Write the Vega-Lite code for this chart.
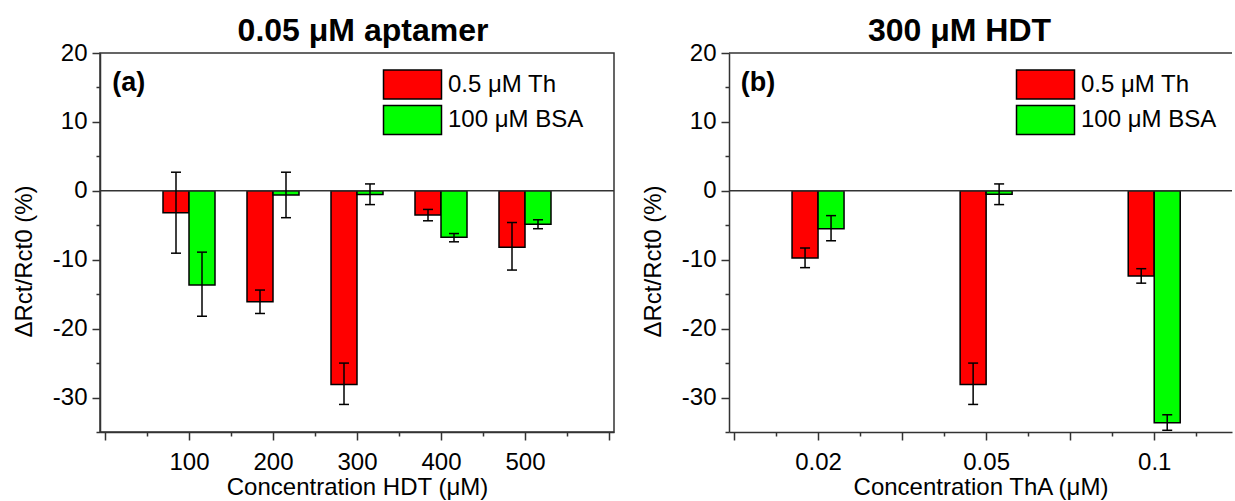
{
  "$schema": "https://vega.github.io/schema/vega-lite/v6.json",
  "padding": {"left": 11, "top": 14, "right": 0, "bottom": 0},
  "spacing": 25,
  "config": {
    "font": "Liberation Sans",
    "view": {"stroke": "#333", "strokeWidth": 1.5},
    "axis": {"domainColor": "#333", "domainWidth": 1.5, "tickColor": "#333", "tickWidth": 1.5, "labelFont": "Liberation Sans", "labelFontSize": 24, "labelColor": "#000", "titleFont": "Liberation Sans", "titleFontSize": 24, "titleFontWeight": "normal", "titleColor": "#000", "grid": false, "labelOverlap": false, "labelFlush": false, "tickCount": 30},
    "legend": {"symbolType": "M-2,-1H2V1H-2Z", "symbolSize": 841, "symbolStrokeColor": "#000", "symbolStrokeWidth": 1.5, "symbolOpacity": 1, "labelFont": "Liberation Sans", "labelFontSize": 24, "labelColor": "#000", "labelOffset": 20, "rowPadding": 0.4, "padding": 0, "labelLimit": 400},
    "title": {"font": "Liberation Sans", "fontSize": 32, "fontWeight": "bold", "color": "#000", "baseline": "alphabetic", "offset": -7}
  },
  "datasets": {
    "hdt": [
      {"conc": 100, "series": "0.5 μM Th", "value": -3.2, "lo": -9.05, "hi": 2.7},
      {"conc": 100, "series": "100 μM BSA", "value": -13.65, "lo": -18.2, "hi": -8.9},
      {"conc": 200, "series": "0.5 μM Th", "value": -16.1, "lo": -17.8, "hi": -14.4},
      {"conc": 200, "series": "100 μM BSA", "value": -0.6, "lo": -3.9, "hi": 2.7},
      {"conc": 300, "series": "0.5 μM Th", "value": -28.1, "lo": -31.0, "hi": -25.0},
      {"conc": 300, "series": "100 μM BSA", "value": -0.55, "lo": -2.0, "hi": 1.0},
      {"conc": 400, "series": "0.5 μM Th", "value": -3.5, "lo": -4.35, "hi": -2.7},
      {"conc": 400, "series": "100 μM BSA", "value": -6.75, "lo": -7.4, "hi": -6.2},
      {"conc": 500, "series": "0.5 μM Th", "value": -8.2, "lo": -11.5, "hi": -4.6},
      {"conc": 500, "series": "100 μM BSA", "value": -4.85, "lo": -5.5, "hi": -4.2}
    ],
    "tha": [
      {"conc": 0.02, "series": "0.5 μM Th", "value": -9.75, "lo": -11.15, "hi": -8.3},
      {"conc": 0.02, "series": "100 μM BSA", "value": -5.5, "lo": -7.25, "hi": -3.6},
      {"conc": 0.05, "series": "0.5 μM Th", "value": -28.1, "lo": -31.0, "hi": -25.0},
      {"conc": 0.05, "series": "100 μM BSA", "value": -0.5, "lo": -2.0, "hi": 1.0},
      {"conc": 0.1, "series": "0.5 μM Th", "value": -12.35, "lo": -13.4, "hi": -11.3},
      {"conc": 0.1, "series": "100 μM BSA", "value": -33.65, "lo": -34.75, "hi": -32.5}
    ]
  },
  "hconcat": [
    {
      "width": 514,
      "height": 379,
      "title": {"text": "0.05 μM aptamer", "dx": 6},
      "layer": [
        {
          "data": {"name": "hdt"},
          "mark": {"type": "bar", "width": 26, "stroke": "#000", "strokeWidth": 1.5, "xOffset": {"expr": "datum.series == '0.5 μM Th' ? -13 : 13"}},
          "encoding": {
            "x": {"field": "conc", "type": "quantitative", "title": "Concentration HDT (μM)",
              "scale": {"domain": [0, 600], "nice": false, "zero": false},
              "axis": {"values": [0, 50, 100, 150, 200, 250, 300, 350, 400, 450, 500, 550, 600], "tickCount": 30,
                "labelExpr": "datum.value >= 100 && datum.value <= 500 && datum.value % 100 == 0 ? datum.label : ''",
                "tickSize": {"condition": {"test": "datum.value % 100 == 0", "value": 8}, "value": 4},
                "labelOverlap": false, "labelPadding": 10, "titlePadding": 1}},
            "y": {"field": "value", "type": "quantitative", "title": "ΔRct/Rct0 (%)", "stack": null,
              "scale": {"domain": [-35, 20], "nice": false, "zero": false},
              "axis": {"values": [-35, -30, -25, -20, -15, -10, -5, 0, 5, 10, 15, 20], "tickCount": 30,
                "labelExpr": "datum.value % 10 == 0 ? '' + datum.value : ''",
                "tickSize": {"condition": {"test": "datum.value % 10 == 0", "value": 8}, "value": 4},
                "labelOverlap": false, "labelPadding": 5, "titlePadding": 16, "titleY": 208}},
            "color": {"field": "series", "type": "nominal", "title": null,
              "scale": {"domain": ["0.5 μM Th", "100 μM BSA"], "range": ["#ff0000", "#00ff00"]},
              "legend": {"orient": "none", "legendX": 297, "legendY": 16}}
          }
        },
        {
          "data": {"values": [{}]},
          "mark": {"type": "rule", "color": "#333", "strokeWidth": 1.5},
          "encoding": {"y": {"datum": 0, "type": "quantitative"}}
        },
        {
          "data": {"name": "hdt"},
          "mark": {"type": "rule", "color": "#000", "strokeWidth": 1.5, "xOffset": {"expr": "datum.series == '0.5 μM Th' ? -13 : 13"}},
          "encoding": {
            "x": {"field": "conc", "type": "quantitative", "title": "Concentration HDT (μM)"},
            "y": {"field": "lo", "type": "quantitative", "title": "ΔRct/Rct0 (%)"},
            "y2": {"field": "hi"}
          }
        },
        {
          "data": {"name": "hdt"},
          "mark": {"type": "tick", "orient": "horizontal", "size": 10, "thickness": 1.5, "color": "#000", "opacity": 1, "xOffset": {"expr": "datum.series == '0.5 μM Th' ? -13 : 13"}},
          "encoding": {
            "x": {"field": "conc", "type": "quantitative", "title": "Concentration HDT (μM)"},
            "y": {"field": "lo", "type": "quantitative", "title": "ΔRct/Rct0 (%)"}
          }
        },
        {
          "data": {"name": "hdt"},
          "mark": {"type": "tick", "orient": "horizontal", "size": 10, "thickness": 1.5, "color": "#000", "opacity": 1, "xOffset": {"expr": "datum.series == '0.5 μM Th' ? -13 : 13"}},
          "encoding": {
            "x": {"field": "conc", "type": "quantitative", "title": "Concentration HDT (μM)"},
            "y": {"field": "hi", "type": "quantitative", "title": "ΔRct/Rct0 (%)"}
          }
        },
        {
          "data": {"values": [{"label": "(a)"}]},
          "mark": {"type": "text", "font": "Liberation Sans", "fontSize": 27, "fontWeight": "bold", "align": "left", "baseline": "alphabetic", "color": "#000"},
          "encoding": {
            "x": {"datum": 8.5, "type": "quantitative"},
            "y": {"datum": 14.5, "type": "quantitative"},
            "text": {"field": "label"}
          }
        }
      ]
    },
    {
      "width": 503,
      "height": 379,
      "view": {"stroke": null},
      "title": {"text": "300 μM HDT", "dx": -21},
      "layer": [
        {
          "data": {"name": "tha"},
          "transform": [{"window": [{"op": "dense_rank", "as": "idx"}], "sort": [{"field": "conc", "order": "ascending"}]}],
          "mark": {"type": "bar", "width": 26, "stroke": "#000", "strokeWidth": 1.5, "xOffset": {"expr": "datum.series == '0.5 μM Th' ? -13 : 13"}},
          "encoding": {
            "x": {"field": "idx", "type": "quantitative", "title": "Concentration ThA (μM)",
              "scale": {"domain": [0.5, 3.433], "nice": false, "zero": false},
              "axis": {"values": [0.5, 0.75, 1, 1.25, 1.5, 1.75, 2, 2.25, 2.5, 2.75, 3, 3.25], "tickCount": 30,
                "labelExpr": "datum.value == 1 ? '0.02' : datum.value == 2 ? '0.05' : datum.value == 3 ? '0.1' : ''",
                "tickSize": {"condition": {"test": "datum.value % 0.5 == 0", "value": 8}, "value": 4},
                "labelOverlap": false, "labelPadding": 10, "titlePadding": 1}},
            "y": {"field": "value", "type": "quantitative", "title": "ΔRct/Rct0 (%)", "stack": null,
              "scale": {"domain": [-35, 20], "nice": false, "zero": false},
              "axis": {"values": [-35, -30, -25, -20, -15, -10, -5, 0, 5, 10, 15, 20], "tickCount": 30,
                "labelExpr": "datum.value % 10 == 0 ? '' + datum.value : ''",
                "tickSize": {"condition": {"test": "datum.value % 10 == 0", "value": 8}, "value": 4},
                "labelOverlap": false, "labelPadding": 5, "titlePadding": 16, "titleY": 208}},
            "color": {"field": "series", "type": "nominal", "title": null,
              "scale": {"domain": ["0.5 μM Th", "100 μM BSA"], "range": ["#ff0000", "#00ff00"]},
              "legend": {"orient": "none", "legendX": 301, "legendY": 16}}
          }
        },
        {
          "data": {"values": [{}]},
          "mark": {"type": "rule", "color": "#333", "strokeWidth": 1.5},
          "encoding": {"y": {"datum": 0, "type": "quantitative"}}
        },
        {
          "data": {"values": [{}]},
          "mark": {"type": "rule", "color": "#333", "strokeWidth": 1.5},
          "encoding": {"y": {"datum": 20, "type": "quantitative"}}
        },
        {
          "data": {"name": "tha"},
          "transform": [{"window": [{"op": "dense_rank", "as": "idx"}], "sort": [{"field": "conc", "order": "ascending"}]}],
          "mark": {"type": "rule", "color": "#000", "strokeWidth": 1.5, "xOffset": {"expr": "datum.series == '0.5 μM Th' ? -13 : 13"}},
          "encoding": {
            "x": {"field": "idx", "type": "quantitative", "title": "Concentration ThA (μM)"},
            "y": {"field": "lo", "type": "quantitative", "title": "ΔRct/Rct0 (%)"},
            "y2": {"field": "hi"}
          }
        },
        {
          "data": {"name": "tha"},
          "transform": [{"window": [{"op": "dense_rank", "as": "idx"}], "sort": [{"field": "conc", "order": "ascending"}]}],
          "mark": {"type": "tick", "orient": "horizontal", "size": 10, "thickness": 1.5, "color": "#000", "opacity": 1, "xOffset": {"expr": "datum.series == '0.5 μM Th' ? -13 : 13"}},
          "encoding": {
            "x": {"field": "idx", "type": "quantitative", "title": "Concentration ThA (μM)"},
            "y": {"field": "lo", "type": "quantitative", "title": "ΔRct/Rct0 (%)"}
          }
        },
        {
          "data": {"name": "tha"},
          "transform": [{"window": [{"op": "dense_rank", "as": "idx"}], "sort": [{"field": "conc", "order": "ascending"}]}],
          "mark": {"type": "tick", "orient": "horizontal", "size": 10, "thickness": 1.5, "color": "#000", "opacity": 1, "xOffset": {"expr": "datum.series == '0.5 μM Th' ? -13 : 13"}},
          "encoding": {
            "x": {"field": "idx", "type": "quantitative", "title": "Concentration ThA (μM)"},
            "y": {"field": "hi", "type": "quantitative", "title": "ΔRct/Rct0 (%)"}
          }
        },
        {
          "data": {"values": [{"label": "(b)"}]},
          "mark": {"type": "text", "font": "Liberation Sans", "fontSize": 27, "fontWeight": "bold", "align": "left", "baseline": "alphabetic", "color": "#000"},
          "encoding": {
            "x": {"datum": 0.54, "type": "quantitative"},
            "y": {"datum": 14.5, "type": "quantitative"},
            "text": {"field": "label"}
          }
        }
      ]
    }
  ],
  "resolve": {"scale": {"color": "independent"}, "legend": {"color": "independent"}}
}
